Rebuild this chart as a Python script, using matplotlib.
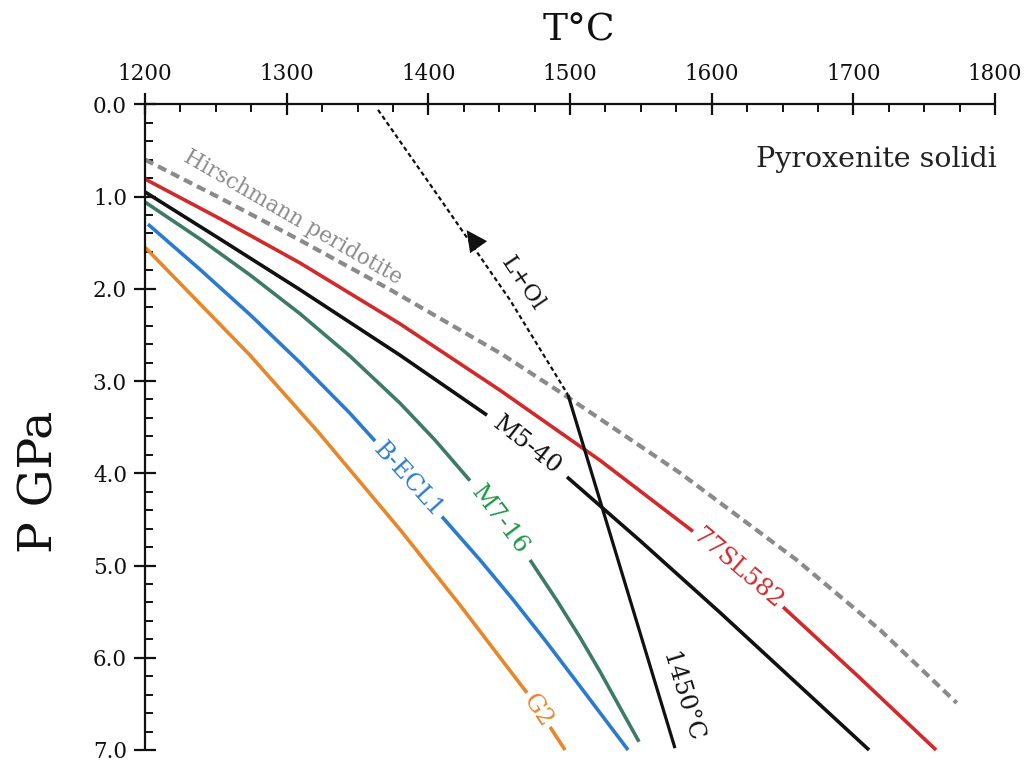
import matplotlib
matplotlib.use("Agg")
import matplotlib.pyplot as plt
from matplotlib.ticker import MultipleLocator, FormatStrFormatter
from matplotlib.patches import FancyArrowPatch

plt.rcParams['font.family'] = ['DejaVu Serif']

# ---------------- data (T in degC, P in GPa) ----------------
hirsch_T = [1200, 1251, 1309, 1372, 1451, 1498, 1578, 1660, 1719, 1773]
hirsch_P = [0.60, 1.00, 1.47, 2.00, 2.70, 3.17, 4.00, 4.94, 5.70, 6.49]

sl582_T1 = [1200, 1252.9, 1309.4, 1380.0, 1450.6, 1521.2, 1586.8]
sl582_P1 = [0.81, 1.24, 1.72, 2.38, 3.10, 3.86, 4.63]
sl582_T2 = [1650.4, 1704.7, 1758.4]
sl582_P2 = [5.45, 6.22, 7.00]

m540_T1 = [1200, 1252.9, 1309.4, 1380.0, 1441.4]
m540_P1 = [0.95, 1.46, 2.01, 2.72, 3.37]
m540_T2 = [1497.9, 1549.4, 1605.9, 1662.4, 1711.1]
m540_P2 = [4.04, 4.73, 5.51, 6.31, 7.00]

m716_T1 = [1200, 1238.8, 1274.1, 1309.4, 1344.7, 1380.0, 1404.7, 1429.4]
m716_P1 = [1.06, 1.46, 1.85, 2.27, 2.73, 3.24, 3.64, 4.08]
m716_T2 = [1471.8, 1490.8, 1507.1, 1521.2, 1535.3, 1548.7]
m716_P2 = [4.94, 5.38, 5.78, 6.15, 6.54, 6.91]

becl_T1 = [1202.1, 1238.8, 1274.1, 1309.4, 1344.7, 1362.4]
becl_P1 = [1.30, 1.79, 2.28, 2.80, 3.35, 3.65]
becl_T2 = [1409.6, 1436.5, 1459.8, 1482.4, 1507.1, 1541.0]
becl_P2 = [4.47, 4.94, 5.37, 5.81, 6.31, 7.00]

g2_T1 = [1200, 1274.1, 1322.1, 1380.0, 1422.4, 1469.6]
g2_P1 = [1.55, 2.72, 3.55, 4.61, 5.43, 6.38]
g2_T2 = [1485.9, 1496.5]
g2_P2 = [6.75, 7.00]

adiabat_T = [1498.6, 1574.1]
adiabat_P = [3.15, 6.98]

lol_T = [1364.5, 1410.4, 1457.6, 1498.6]
lol_P = [0.06, 1.07, 2.12, 3.15]

x_ticks = [1200, 1300, 1400, 1500, 1600, 1700, 1800]
y_ticks = [0, 1, 2, 3, 4, 5, 6, 7]

# colours
c_red = '#d2292b'
c_black = '#111111'
c_green_line = '#3e7a68'
c_green_txt = '#1e9646'
c_blue = '#2a7bcf'
c_orange = '#e8862a'
c_grey = '#8a8a8a'

fig = plt.figure(figsize=(10.36, 7.73), dpi=100)
ax = fig.add_axes([145/1036, 1-750/773, 850/1036, (750-104.3)/773])

ax.set_xlim(1200, 1800)
ax.set_ylim(7, 0)

lw = 2.6
kw = dict(solid_capstyle='butt', solid_joinstyle='round', clip_on=False)
ax.plot(hirsch_T, hirsch_P, color=c_grey, lw=3.0, dashes=(2.2, 1.3), clip_on=False)
ax.plot(sl582_T1, sl582_P1, color=c_red, lw=lw, **kw)
ax.plot(sl582_T2, sl582_P2, color=c_red, lw=lw, **kw)
ax.plot(m540_T1, m540_P1, color=c_black, lw=lw, **kw)
ax.plot(m540_T2, m540_P2, color=c_black, lw=lw, **kw)
ax.plot(m716_T1, m716_P1, color=c_green_line, lw=lw, **kw)
ax.plot(m716_T2, m716_P2, color=c_green_line, lw=lw, **kw)
ax.plot(becl_T1, becl_P1, color=c_blue, lw=lw, **kw)
ax.plot(becl_T2, becl_P2, color=c_blue, lw=lw, **kw)
ax.plot(g2_T1, g2_P1, color=c_orange, lw=lw, **kw)
ax.plot(g2_T2, g2_P2, color=c_orange, lw=lw, **kw)
ax.plot(adiabat_T, adiabat_P, color=c_black, lw=2.3, **kw)
ax.plot(lol_T, lol_P, color=c_black, lw=1.6, dashes=(2.0, 1.4), clip_on=False)

arrow = FancyArrowPatch((1436.0, 1.56), (1425.9, 1.34),
                        arrowstyle='-|>,head_length=1.0,head_width=0.5',
                        mutation_scale=15, color=c_black, lw=0)
ax.add_patch(arrow)

# inline labels
lab = dict(ha='center', va='center', rotation_mode='anchor', fontsize=17.5)
ax.text(1304.5, 1.23, 'Hirschmann peridotite', color=c_grey, rotation=-30,
        **{**lab, 'fontsize': 15.5})
ax.text(1618.6, 5.03, '77SL582', color=c_red, rotation=-40.5, **lab)
ax.text(1469.6, 3.70, 'M5-40', color=c_black, rotation=-38, **lab)
ax.text(1450.6, 4.51, 'M7-16', color=c_green_txt, rotation=-53, **lab)
ax.text(1385.6, 4.07, 'B-ECL1', color=c_blue, rotation=-48, **{**lab, 'fontsize': 17})
ax.text(1477.4, 6.57, 'G2', color=c_orange, rotation=-56, **lab)
ax.text(1579.0, 6.43, '1450°C', color=c_black, rotation=-73, **lab)
ax.text(1466.8, 1.94, 'L+Ol', color=c_black, rotation=-56, **{**lab, 'fontsize': 16.5})
ax.text(1801, 0.68, 'Pyroxenite solidi', ha='right', va='baseline', fontsize=20.5,
        color='#222222')

# axes styling
for s in ['bottom', 'right']:
    ax.spines[s].set_visible(False)
for s in ['top', 'left']:
    ax.spines[s].set_linewidth(1.6)
    ax.spines[s].set_color('#111111')
    ax.spines[s].set_capstyle('butt')

ax.xaxis.tick_top()
ax.xaxis.set_label_position('top')
ax.set_xticks(x_ticks)
ax.xaxis.set_minor_locator(MultipleLocator(25))
ax.set_yticks(y_ticks)
ax.yaxis.set_minor_locator(MultipleLocator(0.2))
ax.yaxis.set_major_formatter(FormatStrFormatter('%.1f'))

ax.tick_params(axis='x', which='major', direction='inout', length=16, width=1.6, pad=6,
               labelsize=15.5, colors='#111111')
ax.tick_params(axis='x', which='minor', direction='in', length=6, width=1.4, colors='#111111')
ax.tick_params(axis='y', which='major', direction='inout', length=16, width=1.6, pad=5,
               labelsize=15.5, colors='#111111')
ax.tick_params(axis='y', which='minor', direction='in', length=6, width=1.4, colors='#111111')

ax.set_xlabel('T°C', fontsize=27, va='center', color='#111111')
ax.xaxis.set_label_coords(0.511, 1.115)
ax.set_ylabel('P GPa', fontsize=34, va='center', color='#111111')
ax.yaxis.set_label_coords(-0.124, 0.415)

fig.savefig('out.png', dpi=100)
